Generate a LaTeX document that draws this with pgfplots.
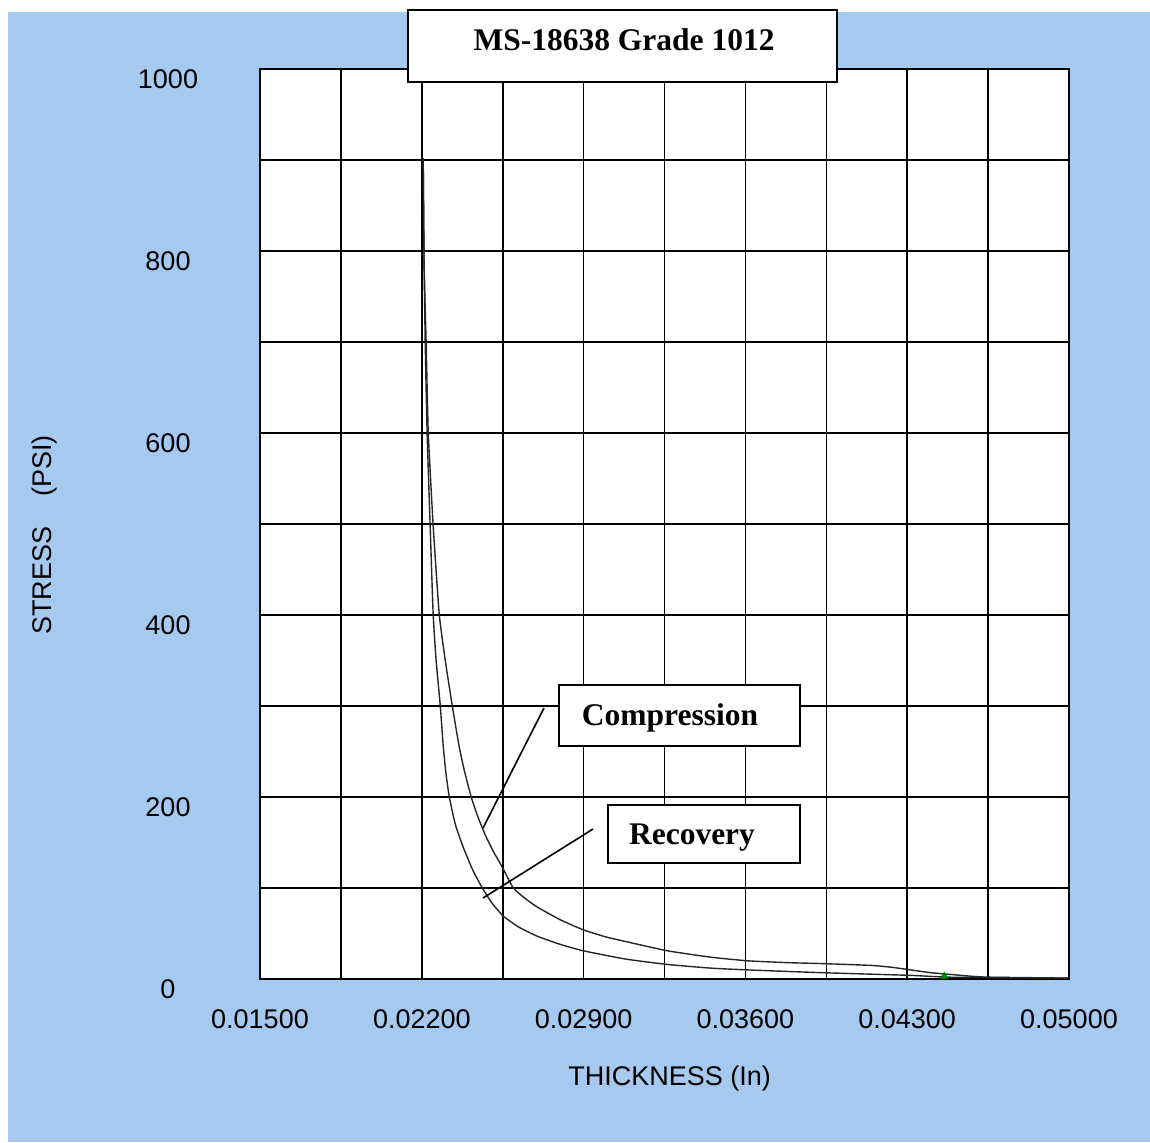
\documentclass[border=0pt]{standalone}
\usepackage{pgfplots}
\pgfplotsset{compat=1.18}
\usepackage{fontspec}
\setmainfont{Liberation Sans}
\newfontfamily\tnr{Liberation Serif}
\definecolor{bgblue}{RGB}{166,201,239}

\begin{document}
\begin{tikzpicture}
\fill[white] (0,0) rectangle (575pt,-571pt);
\fill[bgblue] (4pt,-6pt) rectangle (575pt,-571pt);
\begin{axis}[
  at={(130pt,-489.5pt)}, anchor=south west,
  scale only axis, width=404.5pt, height=455pt,
  xmin=0.015, xmax=0.05, ymin=0, ymax=1000,
  axis background/.style={fill=white},
  xtick={0.015,0.022,0.029,0.036,0.043,0.050},
  minor xtick={0.0185,0.0255,0.0325,0.0395,0.0465},
  ytick={0,200,400,600,800,1000},
  minor ytick={100,300,500,700,900},
  grid=both,
  major grid style={black, line width=0.8pt},
  minor grid style={black, line width=0.8pt},
  axis line style={black, line width=0.8pt},
  major tick length=0pt, minor tick length=0pt,
  scaled x ticks=false,
  /pgf/number format/assume math mode=true,
  tick label style={font=\fontsize{13.5pt}{16pt}\selectfont, text=black},
  xticklabel style={/pgf/number format/fixed, /pgf/number format/fixed zerofill, /pgf/number format/precision=5, yshift=-12pt},
  yticklabel style={/pgf/number format/1000 sep={}, anchor=center, xshift=-46pt, yshift=-5pt},
]
% Compression
\addplot[black!85, line width=0.7pt, smooth, tension=0.3] coordinates {
(0.02206,902) (0.02210,785) (0.02219,697) (0.02228,600) (0.02249,499)
(0.02275,402) (0.02301,351) (0.02332,300) (0.02362,255) (0.02385,228)
(0.02414,200) (0.02440,180) (0.02475,158) (0.02510,140) (0.02548,123)
(0.02596,100) (0.02650,88) (0.02700,79) (0.02800,65) (0.02899,54)
(0.03000,46) (0.03103,40) (0.03263,31) (0.03450,24) (0.03610,20)
(0.03780,18) (0.03926,17) (0.04142,15) (0.04230,13) (0.04316,10)
(0.04400,7) (0.04489,5) (0.04580,3) (0.04662,2) (0.05000,1)
};
% Recovery
\addplot[black!85, line width=0.7pt, smooth, tension=0.3] coordinates {
(0.02206,902) (0.02210,785) (0.02215,697) (0.02223,600) (0.02236,499)
(0.02249,402) (0.02262,350) (0.02280,300) (0.02293,255) (0.02305,225)
(0.02319,200) (0.02345,170) (0.02379,145) (0.02420,120) (0.02462,100)
(0.02505,83) (0.02553,69) (0.02620,57) (0.02700,47) (0.02800,38)
(0.02899,31) (0.03080,22) (0.03263,16) (0.03450,12) (0.03610,10)
(0.03926,7) (0.04316,4) (0.04489,2) (0.05000,1)
};
\addplot[only marks, mark=triangle*, mark size=2pt, green!50!black] coordinates {(0.0446,3)};
\end{axis}
\begin{scope}[x=0.5pt,y=-0.5pt]
\draw[line width=0.8pt] (544,708) -- (483,828);
\draw[line width=0.8pt] (593,829) -- (483,898);
\draw[fill=white, line width=1pt] (559,685) rectangle (800,746);
\node[font=\tnr\bfseries\fontsize{15.75pt}{18pt}\selectfont, anchor=base, inner sep=0pt] at (670,725) {Compression};
\draw[fill=white, line width=1pt] (608,805) rectangle (800,863);
\node[font=\tnr\bfseries\fontsize{15.75pt}{18pt}\selectfont, anchor=base, inner sep=0pt] at (692,844) {Recovery};
\draw[fill=white, line width=1pt] (408,10) rectangle (837,82);
\node[font=\tnr\bfseries\fontsize{15.75pt}{18pt}\selectfont, anchor=base, inner sep=0pt] at (624,50) {MS-18638 Grade 1012};
\node[font=\fontsize{13.5pt}{16pt}\selectfont, rotate=90, inner sep=0pt] at (45,535) {STRESS\hspace{1.1em}(PSI)};
\node[font=\fontsize{13.5pt}{16pt}\selectfont, anchor=base west, inner sep=0pt] at (568,1085) {THICKNESS (In)};
\end{scope}
\end{tikzpicture}
\end{document}
